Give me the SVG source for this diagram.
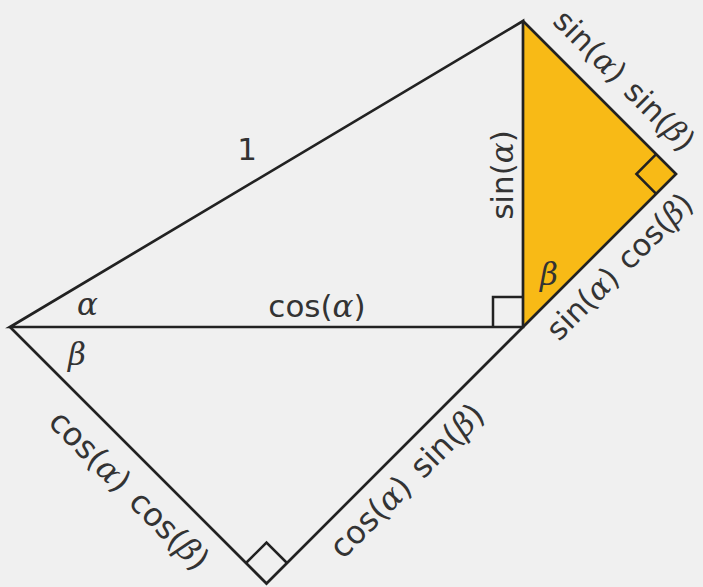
<svg xmlns="http://www.w3.org/2000/svg" width="703" height="587" viewBox="0 0 703 587">
  <style>
    .ln { fill: none; stroke: #222; stroke-width: 2.7; stroke-linejoin: miter; }
    .ra { fill: none; stroke: #222; stroke-width: 2.5; }
    .t { font-family: "DejaVu Sans", sans-serif; font-size: 31px; fill: #333; }
    .d { font-size: 32px; word-spacing: 3px; }
    .e { font-size: 30.5px; word-spacing: 2px; }
    .g { font-family: "DejaVu Serif", serif; font-style: italic; }
  </style>
  <rect width="703" height="587" fill="#F0F0F0"/>
  <g id="orange-triangle">
    <polygon points="523,21 523,327 676,174" fill="#F8BA16"/>
  </g>
  <g id="edges">
    <polygon class="ln" points="10,327 523,21 523,327"/>
    <polyline class="ln" points="10,327 266.5,583.5 676,174 523,21"/>
  </g>
  <g id="right-angles">
    <polyline class="ra" points="493,327 493,297 523,297"/>
    <polyline class="ra" points="656.2,154.2 636.4,174 656.2,193.8"/>
    <polyline class="ra" points="246,563 266.5,542.5 287,563"/>
  </g>
  <g id="labels">
    <text class="t" x="247" y="160" text-anchor="middle">1</text>
    <text class="t" x="317" y="317" text-anchor="middle">cos(<tspan class="g">α</tspan>)</text>
    <text class="t" transform="translate(513,175) rotate(-90)" text-anchor="middle">sin(<tspan class="g">α</tspan>)</text>
    <text class="t g" x="87.5" y="315" text-anchor="middle">α</text>
    <text class="t g" x="77" y="365" text-anchor="middle">β</text>
    <text class="t g" x="549" y="285" text-anchor="middle">β</text>
    <text class="t e" transform="translate(617,88) rotate(45)" text-anchor="middle">sin(<tspan class="g">α</tspan>) sin(<tspan class="g">β</tspan>)</text>
    <text class="t e" transform="translate(627,274) rotate(-45)" text-anchor="middle">sin(<tspan class="g">α</tspan>) cos(<tspan class="g">β</tspan>)</text>
    <text class="t d" transform="translate(414.6,488.4) rotate(-45)" text-anchor="middle">cos(<tspan class="g">α</tspan>) sin(<tspan class="g">β</tspan>)</text>
    <text class="t d" transform="translate(121.5,498) rotate(45)" text-anchor="middle">cos(<tspan class="g">α</tspan>) cos(<tspan class="g">β</tspan>)</text>
  </g>
</svg>
